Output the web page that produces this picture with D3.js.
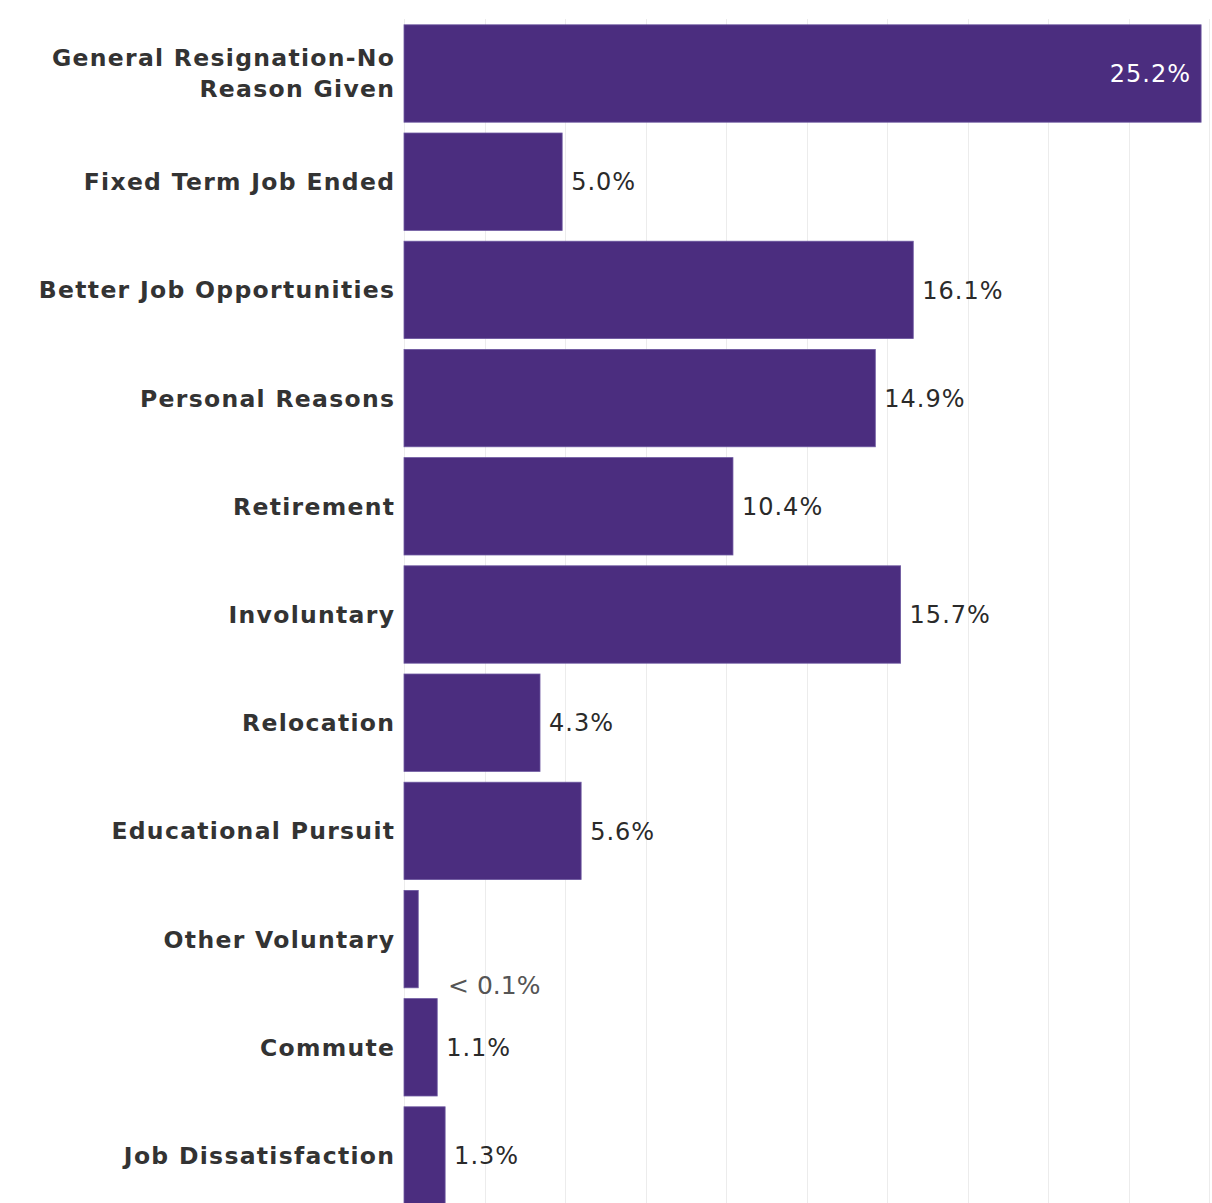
<!DOCTYPE html>
<html>
<head>
<meta charset="utf-8">
<script src="https://cdn.jsdelivr.net/npm/d3@7"></script>
<style>
  html, body { margin: 0; padding: 0; background: #fff; }
  svg { display: block; }
</style>
</head>
<body>
<svg id="chart" width="1212" height="1203"></svg>
<script>
// ---- data ----
const categories = [
  ["General Resignation-No", "Reason Given"],
  ["Fixed Term Job Ended"],
  ["Better Job Opportunities"],
  ["Personal Reasons"],
  ["Retirement"],
  ["Involuntary"],
  ["Relocation"],
  ["Educational Pursuit"],
  ["Other Voluntary"],
  ["Commute"],
  ["Job Dissatisfaction"]
];
const values = [25.2, 5.0, 16.1, 14.9, 10.4, 15.7, 4.3, 5.6, 0.45, 1.05, 1.3];
const valueLabels = ["25.2%", "5.0%", "16.1%", "14.9%", "10.4%", "15.7%", "4.3%", "5.6%", "< 0.1%", "1.1%", "1.3%"];
const xMax = 25.45;
const gridCount = 10;

// ---- layout ----
const W = 1212, H = 1203;
const plotLeft = 404, plotRight = 1209;
const svg = d3.select("#chart");

const x = d3.scaleLinear().domain([0, xMax]).range([plotLeft, plotRight]);
const y = d3.scaleBand()
  .domain(d3.range(categories.length))
  .range([19.4, 19.4 + 11 * 108.2])
  .paddingInner(0.1)
  .paddingOuter(0.05);

// gridlines
const gridVals = d3.range(0, gridCount + 1).map(i => i * xMax / gridCount);
svg.append("g").selectAll("line").data(gridVals).join("line")
  .attr("x1", d => Math.round(x(d)) + 0.5)
  .attr("x2", d => Math.round(x(d)) + 0.5)
  .attr("y1", 19)
  .attr("y2", H)
  .attr("stroke", "#ececec")
  .attr("stroke-width", 1);

// bars
svg.append("g").selectAll("rect").data(values).join("rect")
  .attr("x", x(0))
  .attr("y", (d, i) => y(i))
  .attr("width", d => x(d) - x(0))
  .attr("height", y.bandwidth())
  .attr("fill", "#4b2d7f")
  .attr("stroke", "#6d58a0")
  .attr("stroke-width", 0.8);

// category labels
const catG = svg.append("g");
categories.forEach((lines, i) => {
  const cy = y(i) + y.bandwidth() / 2;
  const lh = 31;
  const t = catG.append("text")
    .attr("x", plotLeft - 10)
    .attr("text-anchor", "end")
    .attr("font-family", "DejaVu Sans, Verdana, sans-serif")
    .attr("font-weight", "bold")
    .attr("font-size", 23.5)
    .attr("letter-spacing", 1.3)
    .attr("fill", "#333");
  lines.forEach((ln, j) => {
    t.append("tspan")
      .attr("x", plotLeft - 10 + 1.3)
      .attr("y", cy + (j - (lines.length - 1) / 2) * lh)
      .attr("dy", "0.36em")
      .text(ln);
  });
});

// value labels
const valG = svg.append("g");
values.forEach((v, i) => {
  const cy = y(i) + y.bandwidth() / 2;
  const label = valueLabels[i];
  if (label.startsWith("<")) {
    valG.append("text")
      .attr("x", x(0) + 44)
      .attr("y", y(i) + y.bandwidth() - 3)
      .attr("dy", "0.36em")
      .attr("font-family", "DejaVu Sans, sans-serif")
      .attr("font-size", 25)
      .attr("fill", "#555")
      .text(label);
  } else if (x(v) > plotRight - 100) {
    valG.append("text")
      .attr("x", x(v) - 11 + 1)
      .attr("y", cy)
      .attr("dy", "0.36em")
      .attr("text-anchor", "end")
      .attr("font-family", "DejaVu Sans, sans-serif")
      .attr("font-size", 24)
      .attr("letter-spacing", 1)
      .attr("fill", "#fff")
      .text(label);
  } else {
    valG.append("text")
      .attr("x", x(v) + 9)
      .attr("y", cy)
      .attr("dy", "0.36em")
      .attr("font-family", "DejaVu Sans, sans-serif")
      .attr("font-size", 24)
      .attr("letter-spacing", 1)
      .attr("fill", "#2a2a2a")
      .text(label);
  }
});
</script>
</body>
</html>
